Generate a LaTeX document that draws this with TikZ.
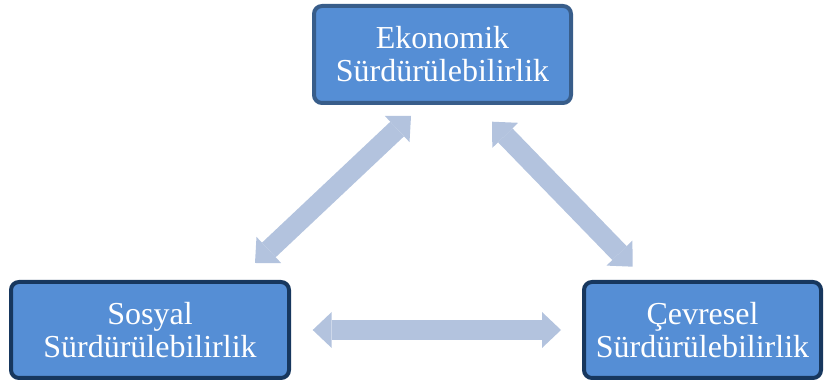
\documentclass[tikz,border=0pt]{standalone}
\usepackage{fontspec}
\setmainfont{Liberation Serif}
\usepackage{tikz}
\usetikzlibrary{arrows.meta,calc,positioning}
\tikzset{
  pillar/.style = {align=center, rectangle, rounded corners=8pt, draw, line width=4pt,
  fill=my_fill, text=white, inner sep=0pt, font=\fontsize{32}{33}\selectfont},
  pil_top/.style = {pillar, draw=my_edge, minimum width=257pt, minimum height=97pt},
  pil_bot/.style = {pillar, draw=my_dark, minimum height=96pt}
}
\definecolor{my_fill}{RGB}{85, 142, 213}
\definecolor{my_edge}{RGB}{56, 93, 138}
\definecolor{my_dark}{RGB}{23, 55, 94}
\definecolor{my_link}{RGB}{179, 195, 222}

\begin{document}
\begin{tikzpicture}[x=1pt,y=1pt,
        >={Triangle[length=19pt,width=36pt,line width=0pt]},
        link/.style={<->, draw=my_link, line width=20pt}]
    \useasboundingbox (0,0) rectangle (824,385);
    \node [pil_top] (eko) at (442.5,330.5) {Ekonomik\\Sürdürülebilirlik};
    \node [pil_bot, minimum width=278pt] (sos) at (150,55) {Sosyal\\Sürdürülebilirlik};
    \node [pil_bot, minimum width=237pt] (cev) at (702.5,55) {Çevresel\\Sürdürülebilirlik};
    \draw [link] ($(eko.south)+(-31.5,-11)$) -- ($(sos.north)+(105,17)$);
    \draw [link] ($(eko.south)+(49.5,-16.7)$) -- ($(cev.north)+(-69.8,13.3)$);
    \draw [link] ($(sos.east)+(21.7,0)$) -- ($(cev.west)+(-21,0)$);
\end{tikzpicture}
\end{document}
